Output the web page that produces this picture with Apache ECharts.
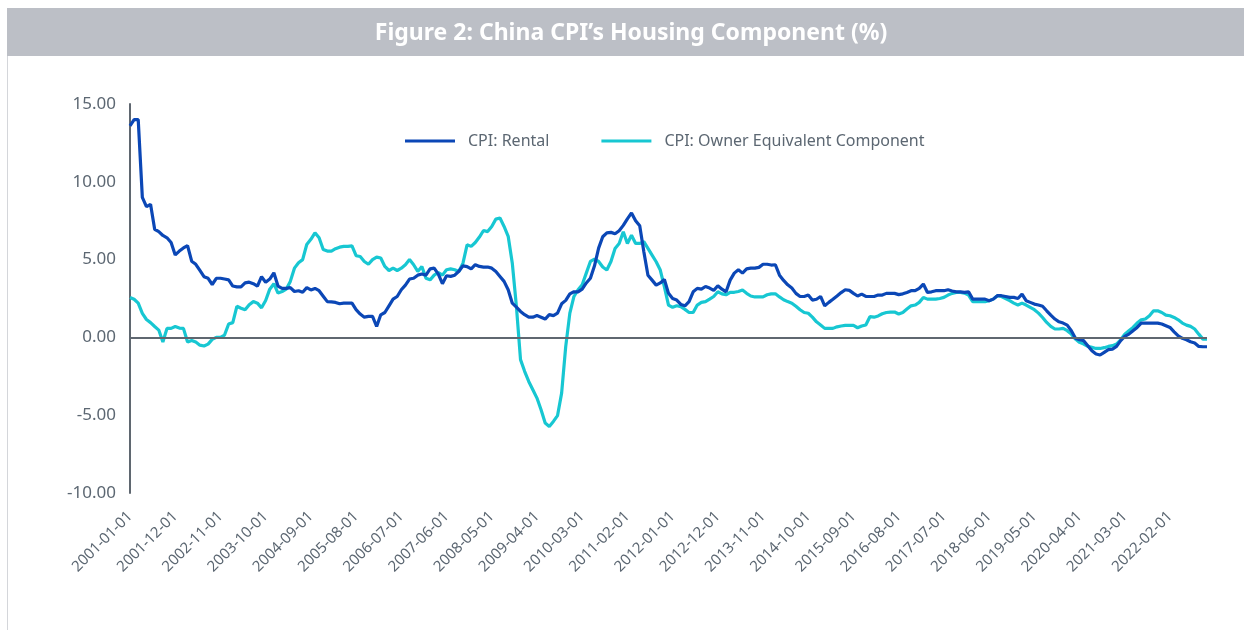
<!DOCTYPE html>
<html>
<head>
<meta charset="utf-8">
<script src="https://cdn.jsdelivr.net/npm/echarts@6/dist/echarts.min.js"></script>
<style>
  html, body { margin: 0; padding: 0; background: #fff; }
  #chart { width: 1244px; height: 630px; }
</style>
</head>
<body>
<div id="chart"></div>
<script>
var titleText = 'Figure 2: China CPI\u2019s Housing Component (%)';
var seriesNames = ['CPI: Rental', 'CPI: Owner Equivalent Component'];

// monthly, 2001-01 .. 2022-11
var startYear = 2001, monthCount = 263;

var rental = [
    13.6, 14.0, 14.0, 9.0, 8.4, 8.55, 6.95, 6.8, 6.55, 6.4, 6.1, 5.3,
    5.55, 5.75, 5.9, 4.9, 4.7, 4.3, 3.9, 3.8, 3.4, 3.8, 3.8, 3.75,
    3.7, 3.3, 3.25, 3.25, 3.5, 3.55, 3.45, 3.3, 3.9, 3.55, 3.75, 4.15,
    3.3, 3.15, 3.15, 3.2, 2.95, 3.0, 2.9, 3.2, 3.05, 3.15, 3.0, 2.65,
    2.3, 2.28, 2.25, 2.16, 2.2, 2.2, 2.2, 1.78, 1.5, 1.3, 1.35, 1.35,
    0.7, 1.45, 1.6, 2.03, 2.46, 2.63, 3.06, 3.36, 3.75, 3.8, 4.0, 4.07,
    4.0, 4.4, 4.45, 4.07, 3.45, 3.96, 3.92, 4.0, 4.25, 4.6, 4.55, 4.4,
    4.67, 4.56, 4.52, 4.52, 4.45, 4.24, 3.92, 3.6, 3.06, 2.2, 1.95, 1.67,
    1.46, 1.3, 1.3, 1.4, 1.3, 1.18, 1.46, 1.4, 1.56, 2.16, 2.38, 2.8,
    2.93, 2.93, 3.1, 3.5, 3.8, 4.6, 5.74, 6.47, 6.72, 6.75, 6.66, 6.85,
    7.2, 7.62, 8.0, 7.5, 7.17, 5.5, 4.0, 3.68, 3.36, 3.5, 3.72, 2.83,
    2.5, 2.4, 2.12, 2.03, 2.3, 2.93, 3.15, 3.1, 3.27, 3.17, 3.02, 3.32,
    3.1, 2.93, 3.68, 4.13, 4.35, 4.13, 4.4, 4.45, 4.45, 4.5, 4.7, 4.7,
    4.65, 4.67, 4.0, 3.66, 3.38, 3.17, 2.83, 2.63, 2.63, 2.72, 2.4, 2.45,
    2.63, 2.03, 2.25, 2.45, 2.66, 2.88, 3.06, 3.02, 2.83, 2.66, 2.78, 2.63,
    2.63, 2.63, 2.72, 2.72, 2.83, 2.83, 2.83, 2.75, 2.8, 2.89, 3.0, 3.0,
    3.15, 3.43, 2.89, 2.93, 3.0, 3.0, 3.0, 3.06, 2.98, 2.93, 2.93, 2.89,
    2.93, 2.46, 2.46, 2.46, 2.46, 2.36, 2.46, 2.68, 2.68, 2.63, 2.57, 2.57,
    2.5, 2.78, 2.36, 2.25, 2.14, 2.08, 2.0, 1.71, 1.43, 1.18, 1.0, 0.92,
    0.79, 0.43, -0.06, -0.15, -0.21, -0.53, -0.86, -1.07, -1.13, -0.96, -0.79, -0.75,
    -0.58, -0.21, 0.06, 0.21, 0.43, 0.64, 0.92, 0.92, 0.92, 0.92, 0.92, 0.86,
    0.75, 0.64, 0.36, 0.1, -0.06, -0.15, -0.28, -0.36, -0.58, -0.6, -0.6
];

var ownerEquivalent = [
    2.56, 2.45, 2.2, 1.55, 1.15, 0.95, 0.7, 0.47, -0.3, 0.58, 0.58, 0.7,
    0.6, 0.58, -0.3, -0.2, -0.3, -0.5, -0.55, -0.43, -0.13, 0.0, 0.0, 0.15,
    0.86, 0.95, 2.0, 1.87, 1.77, 2.1, 2.3, 2.2, 1.9, 2.37, 3.1, 3.45,
    2.85, 2.95, 3.1, 3.6, 4.45, 4.8, 5.0, 5.97, 6.3, 6.72, 6.4, 5.65,
    5.55, 5.55, 5.7, 5.8, 5.85, 5.85, 5.88, 5.25, 5.2, 4.88, 4.7, 5.0,
    5.16, 5.1, 4.56, 4.3, 4.45, 4.3, 4.45, 4.67, 5.0, 4.67, 4.24, 4.56,
    3.8, 3.7, 4.0, 4.17, 4.0, 4.35, 4.4, 4.35, 4.24, 4.77, 5.95, 5.85,
    6.1, 6.45, 6.87, 6.8, 7.13, 7.6, 7.67, 7.13, 6.5, 4.77, 2.0, -1.43,
    -2.18, -2.83, -3.36, -3.9, -4.65, -5.5, -5.72, -5.4, -5.03, -3.58, -0.58, 1.56,
    2.63, 3.06, 3.38, 4.13, 4.88, 5.03, 4.88, 4.52, 4.33, 4.88, 5.72, 6.04,
    6.79, 6.04, 6.57, 6.04, 6.04, 6.15, 5.72, 5.29, 4.86, 4.33, 3.25, 2.08,
    1.93, 2.03, 1.97, 1.8, 1.6, 1.6, 2.08, 2.25, 2.3, 2.46, 2.63, 2.93,
    2.8, 2.74, 2.9, 2.9, 2.95, 3.04, 2.83, 2.66, 2.6, 2.6, 2.6, 2.74,
    2.8, 2.8, 2.6, 2.42, 2.3, 2.2, 2.0, 1.78, 1.6, 1.55, 1.3, 1.0,
    0.8, 0.58, 0.58, 0.58, 0.68, 0.73, 0.77, 0.77, 0.77, 0.62, 0.73, 0.8,
    1.33, 1.3, 1.38, 1.52, 1.6, 1.63, 1.63, 1.5, 1.6, 1.82, 2.03, 2.08,
    2.25, 2.57, 2.46, 2.46, 2.46, 2.5, 2.57, 2.72, 2.83, 2.89, 2.89, 2.85,
    2.72, 2.29, 2.29, 2.29, 2.29, 2.36, 2.46, 2.68, 2.63, 2.5, 2.36, 2.2,
    2.08, 2.2, 2.08, 1.93, 1.78, 1.56, 1.28, 0.96, 0.71, 0.54, 0.54, 0.58,
    0.43, 0.21, -0.11, -0.32, -0.43, -0.58, -0.64, -0.71, -0.71, -0.66, -0.58, -0.53,
    -0.43, -0.15, 0.21, 0.43, 0.64, 0.92, 1.13, 1.18, 1.39, 1.71, 1.71, 1.6,
    1.43, 1.39, 1.28, 1.13, 0.92, 0.79, 0.71, 0.54, 0.21, -0.11, -0.11
];

var categories = [];
for (var m = 0; m < monthCount; m++) {
    var yr = startYear + Math.floor(m / 12);
    var mo = (m % 12) + 1;
    categories.push(yr + '-' + (mo < 10 ? '0' + mo : mo) + '-01');
}

var textGrey = '#5c6772';
var axisGrey = '#5f6770';
var fontName = '"Source Sans Pro", "Noto Sans", Lato, sans-serif';

var chart = echarts.init(document.getElementById('chart'));
chart.setOption({
    animation: false,
    backgroundColor: '#fff',
    textStyle: { fontFamily: fontName },
    graphic: [
        {
            type: 'rect',
            shape: { x: 7, y: 8, width: 1237, height: 48 },
            style: { fill: '#bcbfc6' }
        },
        {
            type: 'line',
            shape: { x1: 7.5, y1: 56, x2: 7.5, y2: 630 },
            style: { stroke: '#d4d6da', lineWidth: 1 }
        },
        {
            type: 'text',
            x: 631,
            y: 33,
            style: {
                text: titleText,
                fill: '#fff',
                font: 'bold 23px ' + fontName,
                align: 'center',
                verticalAlign: 'middle'
            }
        }
    ],
    legend: {
        top: 128,
        left: 400,
        icon: 'rect',
        itemWidth: 50,
        itemHeight: 3,
        itemGap: 52,
        textStyle: { color: textGrey, fontSize: 16, padding: [0, 0, 0, 8] },
        data: seriesNames
    },
    grid: { left: 130, right: 37, top: 104, bottom: 137, containLabel: false },
    xAxis: {
        type: 'category',
        data: categories,
        boundaryGap: false,
        axisLine: { show: false },
        axisTick: { show: false },
        axisLabel: {
            interval: 10,
            rotate: 45,
            margin: 21,
            color: textGrey,
            fontSize: 15
        },
        splitLine: { show: false }
    },
    yAxis: {
        type: 'value',
        min: -10,
        max: 15,
        interval: 5,
        axisLine: { show: true, lineStyle: { color: axisGrey, width: 2 } },
        axisTick: { show: false },
        splitLine: { show: false },
        axisLabel: {
            color: textGrey,
            fontSize: 17,
            margin: 14,
            formatter: function (v) { return v.toFixed(2); }
        }
    },
    series: [
        {
            name: seriesNames[0],
            type: 'line',
            data: rental,
            symbol: 'none',
            lineStyle: { color: '#0b47b6', width: 3.2 },
            itemStyle: { color: '#0b47b6' },
            z: 3,
            markLine: {
                silent: true,
                symbol: 'none',
                label: { show: false },
                lineStyle: { color: axisGrey, width: 2, type: 'solid' },
                data: [{ yAxis: 0 }]
            }
        },
        {
            name: seriesNames[1],
            type: 'line',
            data: ownerEquivalent,
            symbol: 'none',
            lineStyle: { color: '#17c7d2', width: 3.2 },
            itemStyle: { color: '#17c7d2' },
            z: 2
        }
    ]
});
</script>
</body>
</html>
